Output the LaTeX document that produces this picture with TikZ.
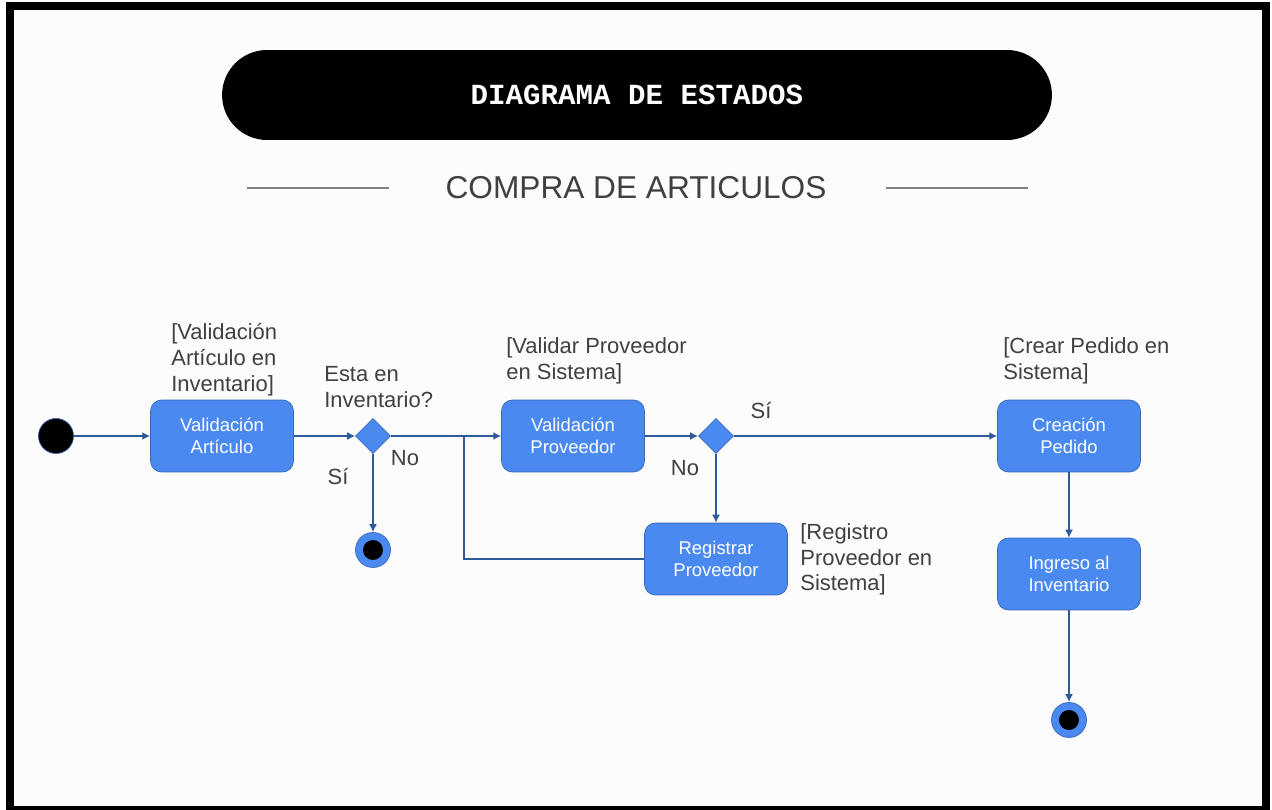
\documentclass[tikz,border=0pt]{standalone}
\usepackage{fontspec}
\setmainfont{Liberation Sans}
\setmonofont{Liberation Mono}
\usetikzlibrary{arrows.meta}
\usetikzlibrary{shapes.geometric}
\usetikzlibrary{positioning,calc}
\definecolor{stateblue}{HTML}{4A8AF0}
\definecolor{stateedge}{HTML}{3567B8}
\definecolor{flowblue}{HTML}{2D5A9B}
\definecolor{guardgray}{HTML}{404040}
\definecolor{rulegray}{HTML}{808080}
\definecolor{paper}{HTML}{FCFCFC}

\begin{document}
\begin{tikzpicture}[x=0.02cm,y=-0.02cm,
         statebox/.style = {draw=stateedge,fill=stateblue,rounded corners=0.22cm,
            minimum width=2.86cm,minimum height=1.44cm,inner sep=0pt,align=center,
            text=white,font=\fontsize{10.5}{12.5}\selectfont},
         choice/.style = {diamond,draw=stateedge,fill=stateblue,minimum size=0.7cm,
            inner sep=0pt},
         startdot/.style = {circle,draw=flowblue,fill=black,minimum size=0.7cm,inner sep=0pt},
         enddot/.style = {circle,draw=stateedge,fill=stateblue,minimum size=0.7cm,
            inner sep=0pt,path picture={\fill[black] (path picture bounding box.center)
            circle (0.2cm);}},
         guard/.style = {inner sep=0pt,align=left,text=guardgray,
            font=\fontsize{12.5}{14.7}\selectfont},
         banner/.style = {fill=black,text=white,rounded corners=0.9cm,
            minimum width=16.6cm,minimum height=1.8cm,
            font=\ttfamily\bfseries\fontsize{16.6}{20}\selectfont},
         flow/.style = {draw=flowblue,line width=0.8pt,-{Latex[length=4.5pt,width=4.5pt]}},
         link/.style = {draw=flowblue,line width=0.8pt},
         rule/.style = {draw=rulegray,line width=1.3pt}
]
      \useasboundingbox (0,0) rectangle (1272,810);
      \fill[white] (0,0) rectangle (1272,810);
      \fill[paper] (10,6.5) rectangle (1266,810);
      \draw[line width=0.16cm] (10,6.5) rectangle (1266,810);

      % title
      \node[banner] (banner) at (637,95) {DIAGRAMA DE ESTADOS};
      \node[text=guardgray,font=\fontsize{18}{21.6}\selectfont] (subtitle) at (636,188)
         {COMPRA DE ARTICULOS};
      \draw[rule] (247,188) -- (389,188);
      \draw[rule] (886,188) -- (1028,188);

      % states
      \node[startdot] (start) at (56,436) {};
      \node[statebox] (valart) at (222,436) {Validación\\Artículo};
      \node[choice] (inv) at (373,436) {};
      \node[enddot] (endinv) at (373,550) {};
      \node[statebox] (valprov) at (573,436) {Validación\\Proveedor};
      \node[choice] (prov) at (716,436) {};
      \node[statebox] (regprov) at (716,559) {Registrar\\Proveedor};
      \node[statebox] (pedido) at (1069,436) {Creación\\Pedido};
      \node[statebox] (ingreso) at (1069,574) {Ingreso al\\Inventario};
      \node[enddot] (endped) at (1069,720) {};
      \coordinate (merge) at (464,436);

      % guards
      \node[guard,anchor=north west] (gart) at (171,323) {[Validación\\Artículo en\\Inventario]};
      \node[guard,anchor=north west] (qinv) at (324,366) {Esta en\\Inventario?};
      \node[guard,anchor=north west] (gprov) at (506,337) {[Validar Proveedor\\en Sistema]};
      \node[guard,anchor=north west] (greg) at (800,523) {[Registro\\Proveedor en\\Sistema]};
      \node[guard,anchor=north west] (gped) at (1003,337) {[Crear Pedido en\\Sistema]};
      \node[guard] (si1) at (338,477) {Sí};
      \node[guard] (no1) at (405,458) {No};
      \node[guard] (si2) at (761,411) {Sí};
      \node[guard] (no2) at (685,468) {No};

      \draw[flow] (start) -- (valart);
      \draw[flow] (valart) -- (inv);
      \draw[flow] (inv) -- (endinv);
      \draw[flow] (inv) -- (valprov);
      \draw[link] (regprov) -| (merge);
      \draw[flow] (valprov) -- (prov);
      \draw[flow] (prov) -- (pedido);
      \draw[flow] (prov) -- (regprov);
      \draw[flow] (pedido) -- (ingreso);
      \draw[flow] (ingreso) -- (endped);
   \end{tikzpicture}
\end{document}
